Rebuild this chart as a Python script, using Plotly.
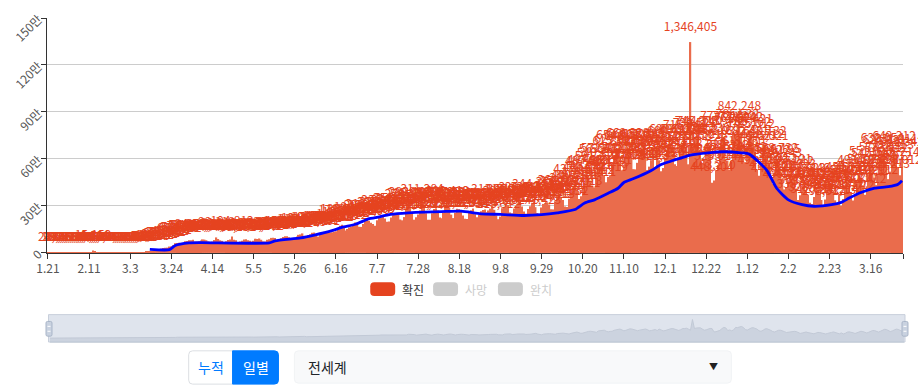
import pandas as pd
import plotly.graph_objects as go

# ---------------- data ----------------
START = "2020-01-21"

jan20 = [282, 99, 287, 493, 684, 809, 2651, 588, 2068, 1693, 2111]
feb20 = [2604, 2838, 3235, 3884, 3694, 3142, 3399, 2656, 3056, 2496, 2016, 2034, 15152, 6521, 2663,
         2101, 2050, 1891, 1749, 394, 889, 1016, 612, 461, 798, 994, 1189, 1305, 1856]
mar20 = [1821, 2003, 2482, 2249, 2713, 3925, 4053, 3903, 3790, 4399, 7271, 6743, 10877, 11089, 13781,
         14512, 16117, 20341, 27122, 31645, 32982, 33841, 40892, 42024, 49532, 62446, 64112, 64960,
         58720, 62532, 74226]
apr20 = [76813, 81047, 81302, 84101, 72891, 72612, 74873, 80112, 86501, 85321, 81023, 73213, 70112,
         72334, 82211, 99118, 89112, 80632, 77121, 70123, 74334, 82511, 86601, 104812, 84311, 80224,
         68132, 72331, 77123, 85674]
may20 = [87921, 81013, 77322, 72011, 77821, 91012, 89213, 92314, 84231, 73841, 73102, 84012, 87331,
         96013, 97211, 96123, 81824, 88112, 94113, 101412, 106321, 107331, 100812, 94221, 90121, 93212,
         104313, 115612, 118021, 124631, 100523]
jun20 = [102331, 113412, 118731, 128841, 130212, 112321, 104731, 122811, 133011, 135112, 138221, 134110,
         130312, 132441, 135321, 139010, 149020, 173141, 180512, 161023, 143312, 153012, 163323, 168810,
         181823, 194412, 181311, 167234, 166320, 185031]
jul20 = [209210, 212320, 206310, 192401, 184003, 173402, 209321, 226731, 228041, 236912, 219210, 198523,
         201303, 226021, 240512, 251934, 250311, 243512, 213410, 208310, 229012, 279231, 285032, 289102,
         257612, 212320, 227120, 245223, 271013, 311284, 288231]
aug20 = [253021, 212051, 211233, 253712, 280810, 285631, 271023, 226013, 221632, 255234, 288231, 293413,
         287231, 244712, 222523, 256501, 282023, 279413, 270112, 239510, 218502, 216834, 262345, 273134,
         284120, 247213, 228013, 243532, 266103, 273413, 277510]
sep20 = [260213, 271340, 283421, 311120, 275413, 239023, 215312, 232031, 285712, 294123, 311022, 306131,
         257412, 253012, 283214, 299223, 311024, 325012, 296231, 264512, 250341, 281032, 297411, 320234,
         344152, 292231, 255040, 241423, 290321, 312842]
oct20 = [318410, 323341, 309231, 279012, 278013, 330412, 351223, 364521, 358312, 338021, 296134, 294052,
         345321, 380512, 400231, 437012, 396321, 345121, 362013, 418214, 447541, 487013, 497213, 462321,
         430512, 419011, 521210, 540231, 563312, 572412, 496120]
nov20 = [452019, 484210, 495341, 566012, 615312, 629013, 654921, 573041, 528312, 563412, 646421, 669328,
         660521, 608013, 535021, 533412, 575312, 621044, 661012, 658342, 613015, 529412, 551023, 592341,
         620013, 547021, 650312, 591023, 521331, 542120]
dec20 = [607341, 647023, 680412, 690213, 632014, 566012, 554319, 608412, 691023, 692130, 715342, 648012,
         566021, 1346405, 693412, 730521, 745023, 744213, 658321, 571021, 598312, 656013, 701230, 687312,
         448304, 463210, 523014, 560412, 681031, 773210, 740412]
jan21 = [547213, 589312, 532120, 588041, 773412, 761023, 785532, 842248, 771042, 613250, 579312, 682431,
         735102, 757421, 725012, 645023, 531213, 492312, 560312, 661712, 680132, 645021, 561012, 471320,
         442031, 510312, 568732, 566195, 536243, 467213, 406021]
feb21 = [420312, 452013, 503121, 487212, 471023, 412031, 338042, 369012, 412312, 441023, 398412, 371203,
         320794, 312034, 357212, 412031, 401234, 380012, 338021, 298312, 341023, 402312, 412031, 446210,
         393012, 336021, 310214, 375012]
mar21 = [302134, 345012, 431023, 451312, 432012, 387021, 335012, 378210, 451023, 493120, 472012, 432021,
         371412, 426012, 503212, 551023, 542013, 481023, 432912, 497231, 578213, 632054, 624021, 573012,
         471213, 519012, 587213, 649312, 631011, 548214, 496012]
apr21 = [612342]

daily_confirmed = (jan20 + feb20 + mar20 + apr20 + may20 + jun20 + jul20 + aug20 + sep20 + oct20 +
                   nov20 + dec20 + jan21 + feb21 + mar21 + apr21)

# trend line (blue)
trend_dates = ["2020-03-13", "2020-03-23", "2020-03-26", "2020-04-02", "2020-04-08", "2020-05-13",
               "2020-05-16", "2020-05-29", "2020-06-05", "2020-06-14", "2020-06-19", "2020-06-26",
               "2020-07-03", "2020-07-06", "2020-07-14", "2020-07-23", "2020-07-31", "2020-08-09",
               "2020-08-19", "2020-08-29", "2020-09-08", "2020-09-20", "2020-09-29", "2020-10-07",
               "2020-10-16", "2020-10-21", "2020-10-26", "2020-11-02", "2020-11-07", "2020-11-10",
               "2020-11-15", "2020-11-24", "2020-11-29", "2020-12-06", "2020-12-14", "2020-12-23",
               "2020-12-31", "2021-01-09", "2021-01-13", "2021-01-18", "2021-01-22", "2021-01-27",
               "2021-02-02", "2021-02-09", "2021-02-15", "2021-02-24", "2021-03-01", "2021-03-05",
               "2021-03-11", "2021-03-18", "2021-03-25", "2021-03-30", "2021-04-01"]
trend_values = [23000, 21000, 48000, 64000, 66000, 64000,
                77000, 96000, 114000, 142000, 163000, 183000,
                219000, 225000, 246000, 256000, 261000, 264000,
                267000, 250000, 246000, 239000, 244000, 256000,
                277000, 319000, 339000, 381000, 413000, 450000,
                475000, 527000, 564000, 594000, 625000, 639000,
                646000, 639000, 631000, 579000, 527000, 413000,
                339000, 308000, 298000, 308000, 323000, 350000,
                386000, 414000, 423000, 439000, 461000]

y_tickvals = [0, 300000, 600000, 900000, 1200000, 1500000]
y_ticktext = ["0", "30만", "60만", "90만", "120만", "150만"]

legend_names = ["확진", "사망", "완치"]
button_labels = ["누적", "일별"]
region_label = "전세계"

# ---------------- derived categories ----------------
dates = pd.date_range(START, periods=len(daily_confirmed), freq="D")
tick_dates = list(dates[::21])
tick_labels = [f"{d.month}.{d.day}" for d in tick_dates]
x_lo = dates[0] - pd.Timedelta(hours=12)
x_hi = dates[-1] + pd.Timedelta(hours=12)

# ---------------- layout geometry ----------------
W, H = 918, 392
ML, MR, MT, MB = 45, 13, 11, 49
PW, PH = W - ML - MR, H - MT - MB   # 860 x 332
AXIS_BOTTOM = 251
SL_TOP, SL_BOT = 314, 343


def px(x):
    return (x - ML) / PW


def py(y):
    return (H - MB - y) / PH


def rrect(x0, y0, x1, y1, rtl, rtr, rbr, rbl):
    def P(x, y):
        return f"{px(x):.5f},{py(y):.5f}"
    return (f"M{P(x0 + rtl, y0)} L{P(x1 - rtr, y0)} Q{P(x1, y0)} {P(x1, y0 + rtr)} "
            f"L{P(x1, y1 - rbr)} Q{P(x1, y1)} {P(x1 - rbr, y1)} "
            f"L{P(x0 + rbl, y1)} Q{P(x0, y1)} {P(x0, y1 - rbl)} "
            f"L{P(x0, y0 + rtl)} Q{P(x0, y0)} {P(x0 + rtl, y0)} Z")


FONT = "Noto Sans CJK KR, Noto Sans, sans-serif"
RED = "#e5431f"
BAR = "#ea6c4c"

fig = go.Figure()

fig.add_trace(go.Bar(
    x=dates, y=daily_confirmed, marker=dict(color=BAR, line=dict(width=0)),
    showlegend=False, hoverinfo="x+y", xaxis="x", yaxis="y"))

# value labels above every bar (invisible marker pushes the text up off the bar top)
fig.add_trace(go.Scatter(
    x=dates, y=daily_confirmed, mode="markers+text",
    marker=dict(size=12, color="rgba(0,0,0,0)", line=dict(width=0)),
    text=[f"{v:,}" for v in daily_confirmed], textposition="top center",
    textfont=dict(color=RED, size=12, family=FONT), cliponaxis=False,
    showlegend=False, hoverinfo="skip", xaxis="x", yaxis="y"))

fig.add_trace(go.Scatter(
    x=pd.to_datetime(trend_dates), y=trend_values, mode="lines",
    line=dict(color="#0000ff", width=2.8, shape="spline", smoothing=0.6),
    showlegend=False, cliponaxis=False, xaxis="x", yaxis="y"))

# data-zoom strip: baseline + area of the same series
sl_lo, sl_hi = -354317, 1700722
fig.add_trace(go.Scatter(
    x=[dates[0], dates[-1]], y=[sl_lo, sl_lo], mode="lines", line=dict(width=0),
    showlegend=False, hoverinfo="skip", xaxis="x2", yaxis="y2"))
fig.add_trace(go.Scatter(
    x=dates, y=daily_confirmed, mode="lines", fill="tonexty",
    fillcolor="rgba(170,180,198,0.35)", line=dict(color="#c2c9d6", width=1),
    showlegend=False, hoverinfo="skip", xaxis="x2", yaxis="y2"))

shapes = []
# slider box
shapes.append(dict(type="rect", xref="paper", yref="paper", x0=px(46.5), x1=px(905), y0=py(SL_BOT - 1),
                   y1=py(SL_TOP), fillcolor="#dfe4ed", line=dict(color="#c8cfdb", width=1), layer="below"))
# handles
for hx in (47, 905):
    shapes.append(dict(type="path", xref="paper", yref="paper",
                       path=rrect(hx - 3, 321, hx + 3, 336, 1.5, 1.5, 1.5, 1.5),
                       fillcolor="#c9d2e0", line=dict(color="#a9b5c8", width=1), layer="above"))
    shapes.append(dict(type="line", xref="paper", yref="paper", x0=px(hx - 1.5), x1=px(hx + 1.5),
                       y0=py(326), y1=py(326), line=dict(color="#ffffff", width=1)))
    shapes.append(dict(type="line", xref="paper", yref="paper", x0=px(hx - 1.5), x1=px(hx + 1.5),
                       y0=py(331), y1=py(331), line=dict(color="#ffffff", width=1)))

# manual legend
legend_items = [(369, RED, "#333333"), (432, "#cccccc", "#cccccc"), (497, "#cccccc", "#cccccc")]
annotations = []
for (lx, fc, tc), name in zip(legend_items, legend_names):
    shapes.append(dict(type="path", xref="paper", yref="paper",
                       path=rrect(lx, 281, lx + 25, 295, 4, 4, 4, 4),
                       fillcolor=fc, line=dict(width=0)))
    annotations.append(dict(xref="paper", yref="paper", x=px(lx + 30), y=py(288), text=name,
                            showarrow=False, xanchor="left", yanchor="middle",
                            font=dict(size=12, color=tc, family=FONT)))

# buttons
shapes.append(dict(type="path", xref="paper", yref="paper",
                   path=rrect(187, 351, 231, 385, 4, 0, 0, 4),
                   fillcolor="#ffffff", line=dict(color="#dcdfe3", width=1)))
shapes.append(dict(type="path", xref="paper", yref="paper",
                   path=rrect(231, 351, 277, 385, 0, 4, 4, 0),
                   fillcolor="#007bff", line=dict(color="#007bff", width=1)))
annotations.append(dict(xref="paper", yref="paper", x=px(209), y=py(368), text=button_labels[0],
                        showarrow=False, xanchor="center", yanchor="middle",
                        font=dict(size=14, color="#007bff", family=FONT)))
annotations.append(dict(xref="paper", yref="paper", x=px(254), y=py(368), text=button_labels[1],
                        showarrow=False, xanchor="center", yanchor="middle",
                        font=dict(size=14, color="#ffffff", family=FONT)))
# dropdown
shapes.append(dict(type="path", xref="paper", yref="paper",
                   path=rrect(293, 351, 731, 384, 4, 4, 4, 4),
                   fillcolor="#f8f9fa", line=dict(color="#f1f3f5", width=1)))
annotations.append(dict(xref="paper", yref="paper", x=px(305), y=py(368), text=region_label,
                        showarrow=False, xanchor="left", yanchor="middle",
                        font=dict(size=14, color="#212529", family=FONT)))
annotations.append(dict(xref="paper", yref="paper", x=px(713), y=py(367), text="▼",
                        showarrow=False, xanchor="center", yanchor="middle",
                        font=dict(size=9, color="#222222", family=FONT)))

main_bottom = (H - MB - AXIS_BOTTOM) / PH

fig.update_layout(
    width=W, height=H, margin=dict(l=ML, r=MR, t=MT, b=MB),
    paper_bgcolor="#ffffff", plot_bgcolor="rgba(0,0,0,0)",
    font=dict(family=FONT, size=12, color="#555555"),
    bargap=0.25, showlegend=False,
    xaxis=dict(domain=[0, (PW - 2) / PW], anchor="y", type="date", range=[x_lo, x_hi],
               tickvals=tick_dates + [x_hi], ticktext=tick_labels + [""],
               showline=True, linecolor="#333333", linewidth=1, ticks="outside", ticklen=5,
               tickcolor="#333333", showgrid=False, zeroline=False,
               tickfont=dict(size=12, color="#555555", family=FONT)),
    yaxis=dict(domain=[main_bottom, 1], anchor="x", range=[0, 1500000],
               tickvals=y_tickvals, ticktext=y_ticktext, tickangle=-45,
               showline=True, linecolor="#333333", linewidth=1, ticks="outside", ticklen=5,
               tickcolor="#333333", showgrid=True, gridcolor="#cccccc", gridwidth=1, zeroline=False,
               tickfont=dict(size=12, color="#555555", family=FONT)),
    xaxis2=dict(domain=[px(47), 1], anchor="y2", type="date", range=[x_lo, x_hi],
                visible=False, showgrid=False, zeroline=False),
    yaxis2=dict(domain=[0, py(SL_TOP)], anchor="x2", range=[sl_lo, sl_hi],
                visible=False, showgrid=False, zeroline=False),
    shapes=shapes, annotations=annotations,
)

fig.write_html(
    "out.html",
    config={"displayModeBar": False},
    post_script="document.body.style.margin='0px';document.body.style.padding='0px';"
                "document.body.style.overflow='hidden';",
)
